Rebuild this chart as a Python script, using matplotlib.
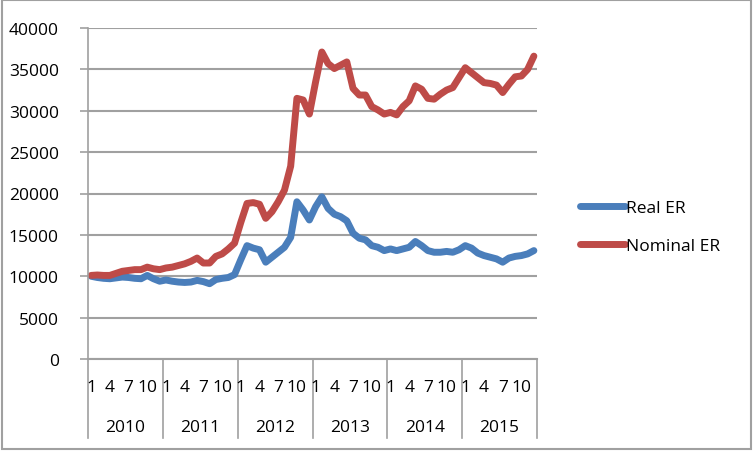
from matplotlib import pyplot as plt
from matplotlib.lines import Line2D
from matplotlib.patches import Rectangle

plt.rcParams['font.family'] = ['Open Sans', 'DejaVu Sans']

years = ['2010', '2011', '2012', '2013', '2014', '2015']
month_labels = ['1', '4', '7', '10']

# monthly values Jan 2010 - Dec 2015
real_er = [
    10000, 9850, 9750, 9700, 9800, 9900, 9850, 9750, 9700, 10100, 9700, 9400,
    9550, 9400, 9300, 9250, 9300, 9500, 9350, 9100, 9600, 9750, 9850, 10200,
    12000, 13700, 13400, 13200, 11700, 12300, 12900, 13500, 14700, 19000, 18000, 16800,
    18400, 19600, 18200, 17500, 17200, 16700, 15200, 14600, 14400, 13700, 13500, 13100,
    13300, 13100, 13300, 13500, 14200, 13700, 13100, 12900, 12900, 13000, 12900, 13200,
    13700, 13400, 12800, 12500, 12300, 12100, 11700, 12200, 12400, 12500, 12700, 13100,
]
nominal_er = [
    10100, 10150, 10100, 10100, 10350, 10600, 10700, 10800, 10800, 11100, 10900, 10800,
    11000, 11100, 11300, 11500, 11800, 12200, 11600, 11600, 12400, 12700, 13300, 14000,
    16500, 18800, 18900, 18700, 17000, 17800, 19000, 20400, 23300, 31500, 31300, 29600,
    33500, 37100, 35700, 35100, 35500, 35900, 32700, 31900, 31900, 30500, 30100, 29600,
    29800, 29500, 30500, 31200, 33000, 32600, 31500, 31400, 32000, 32500, 32800, 34000,
    35200, 34600, 34000, 33400, 33300, 33100, 32200, 33200, 34100, 34200, 35000, 36600,
]

blue = '#4a7ebb'
red = '#be4b48'
grey = '#a0a0a0'
fs = 12.5
lw = 5

fig = plt.figure(figsize=(7.53, 4.52), dpi=100)
ax = fig.add_axes([88 / 753, 92 / 452, 449 / 753, 331 / 452])

x = list(range(len(real_er)))
ax.plot(x, real_er, color=blue, lw=lw, solid_capstyle='round', solid_joinstyle='round', clip_on=False)
ax.plot(x, nominal_er, color=red, lw=lw, solid_capstyle='round', solid_joinstyle='round', clip_on=False)

ax.set_xlim(-0.5, len(x) - 0.5)
ax.set_ylim(0, 40000)
ax.set_yticks(range(0, 40001, 5000))
ax.yaxis.grid(True, color=grey, lw=1.5)
ax.set_axisbelow(True)
ax.tick_params(axis='y', length=6, width=1.2, color=grey, pad=15, labelsize=fs)
ax.set_xticks([])

for side in ['top', 'right']:
    ax.spines[side].set_visible(False)
ax.spines['left'].set_color(grey)
ax.spines['bottom'].set_color(grey)
ax.spines['left'].set_linewidth(1.2)
ax.spines['bottom'].set_linewidth(1.5)

# two level category axis
tr = ax.get_xaxis_transform()
for i, yr in enumerate(years):
    for j, m in enumerate(month_labels):
        ax.text(i * 12 + j * 3, -0.085, m, transform=tr, ha='center', va='center', fontsize=fs)
    ax.text(i * 12 + 5.5, -0.205, yr, transform=tr, ha='center', va='center', fontsize=fs)
for i in range(len(years) + 1):
    ax.plot([i * 12 - 0.5, i * 12 - 0.5], [0, -0.24], transform=tr, color=grey, lw=1.2, clip_on=False)

handles = [Line2D([], [], color=blue, lw=lw, solid_capstyle='round'),
           Line2D([], [], color=red, lw=lw, solid_capstyle='round')]
fig.legend(handles, ['Real ER', 'Nominal ER'], loc='center left', bbox_to_anchor=(564 / 753, 1 - 228 / 452),
           frameon=False, fontsize=fs, handlelength=2.6, handletextpad=0.1, labelspacing=1.3)

fig.patches.append(Rectangle((1.5 / 753, 2 / 452), 749.5 / 753, 449 / 452, transform=fig.transFigure,
                             fill=False, edgecolor=grey, lw=1.5))

fig.savefig('out.png', dpi=100)
